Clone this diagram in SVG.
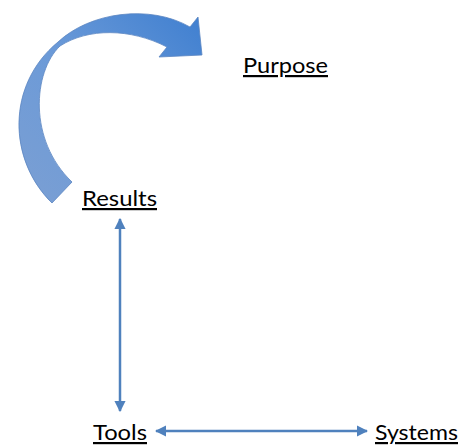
<svg xmlns="http://www.w3.org/2000/svg" width="470" height="445" viewBox="0 0 470 445">
<defs>
<linearGradient id="g" x1="0" y1="1" x2="1" y2="0">
<stop offset="0" stop-color="#7b9fd3"/>
<stop offset="0.5" stop-color="#6b9ad8"/>
<stop offset="1" stop-color="#3f7fd0"/>
</linearGradient>
<marker id="ah" viewBox="0 0 10 10" refX="9" refY="5" markerWidth="4.5" markerHeight="4.5" orient="auto-start-reverse">
<path d="M0,0 L10,5 L0,10 z" fill="#4f81bd"/>
</marker>
<style>
text{font-family:Lato,"Liberation Sans",Arial,sans-serif;font-size:22px;fill:#000;text-decoration:underline;}
.c{stroke:#4f81bd;stroke-width:2.5;fill:none;marker-start:url(#ah);marker-end:url(#ah);}
</style>
</defs>
<g id="curved-arrow">
<path d="M52,203 C8,160 6,85 58,42 C90,12 150,4 190,27 L198,17 L202,55 L159,57 L167,47 C130,28 88,28 60,46 C33,72 28,140 72,182 Z" fill="url(#g)" stroke="#5a85c2" stroke-width="0.8"/>
</g>
<g id="purpose"><text x="243" y="73" textLength="85" lengthAdjust="spacingAndGlyphs">Purpose</text></g>
<g id="results"><text x="82" y="206" textLength="75" lengthAdjust="spacingAndGlyphs">Results</text></g>
<g id="tools"><text x="93" y="440" textLength="54" lengthAdjust="spacingAndGlyphs">Tools</text></g>
<g id="systems"><text x="375" y="440" textLength="83" lengthAdjust="spacingAndGlyphs">Systems</text></g>
<g id="connectors">
<line class="c" x1="120" y1="219" x2="120" y2="411"/>
<line class="c" x1="156" y1="431" x2="367" y2="431"/>
</g>
</svg>
